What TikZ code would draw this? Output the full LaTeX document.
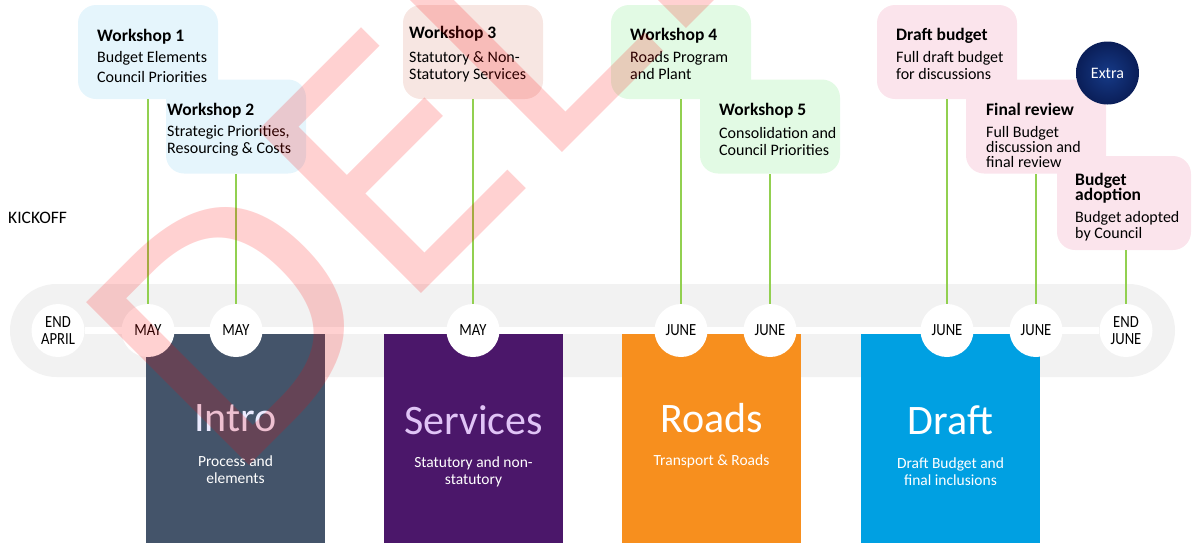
\documentclass[tikz,border=0pt]{standalone}
\usepackage{fontspec}
\usetikzlibrary{backgrounds}

\setmainfont{Carlito}
\newfontfamily\stampfamily{DejaVu Sans}
\newfontfamily\datefamily[FakeStretch=0.86]{Carlito}

\definecolor{cardblue}{RGB}{229,245,252}
\definecolor{cardrose}{RGB}{247,230,226}
\definecolor{cardgreen}{RGB}{226,250,228}
\definecolor{cardpink}{RGB}{251,228,236}
\definecolor{stemgreen}{RGB}{146,208,80}
\definecolor{bandgray}{RGB}{242,242,242}
\definecolor{introslate}{RGB}{68,84,106}
\definecolor{servpurple}{RGB}{75,23,106}
\definecolor{roadorange}{RGB}{247,143,30}
\definecolor{draftblue}{RGB}{0,160,226}
\definecolor{servlilac}{RGB}{224,196,246}
\definecolor{navyin}{RGB}{22,58,135}
\definecolor{navyout}{RGB}{10,30,88}

\newcommand\cardtitle{\bfseries\fontsize{17.5}{21}\selectfont}
\newcommand\cardbody{\fontsize{16}{17}\selectfont}
\newcommand\phasetitle{\fontsize{42}{46}\selectfont}
\newcommand\phasebody{\fontsize{15.5}{17}\selectfont}
\newcommand\datelabel{\datefamily\fontsize{17}{16.5}\selectfont}

\begin{document}
\begin{tikzpicture}
	[
	x=1pt, y=-1pt,
	card/.style={rounded corners=18pt, minimum width=140pt, minimum height=94pt, inner sep=0pt},
	cardtext/.style={anchor=base west, align=left, inner sep=0pt, font=\cardbody},
	date/.style={circle, fill=white, minimum size=53pt, inner sep=0pt, align=center, font=\datelabel},
	phase/.style={anchor=north west, minimum width=179pt, minimum height=220pt, inner sep=0pt},
	phasename/.style={inner sep=0pt, font=\phasetitle},
	phasesub/.style={inner sep=0pt, align=center, text=white, font=\phasebody},
	stem/.style={draw=stemgreen, line width=1.2pt},
	stamp/.style={rotate=45, anchor=base west, inner sep=0pt, text=red, text opacity=0.18,
		font=\stampfamily\fontsize{316}{316}\selectfont},
	]
		\useasboundingbox (0,0) rectangle (1192,542);
		\clip (0,0) rectangle (1192,542);
		
		% phase blocks under the timeline
		\node[phase, fill=introslate] (intro) at 	(146,334) {};
		\node[phase, fill=servpurple] (serv) at 	(384,334) {};
		\node[phase, fill=roadorange] (roads) at 	(622,334) {};
		\node[phase, fill=draftblue] (draft) at 	(861,334) {};
		
		\node[phasename, text=white!92!blue] (introname) at 	(235.5,418) {Intro};
		\node[phasename, text=servlilac] (servname) at 		(473.5,420) {Services};
		\node[phasename, text=white] (roadsname) at 		(711.5,418) {Roads};
		\node[phasename, text=white] (draftname) at 		(950.5,420) {Draft};
		
		\node[phasesub] (introsub) at 	(235.5,469.5) {Process and\\elements};
		\node[phasesub] (servsub) at 	(473.5,471.5) {Statutory and non-\\statutory};
		\node[phasesub] (roadssub) at 	(711.5,461.5) {Transport \& Roads};
		\node[phasesub] (draftsub) at 	(950.5,471.5) {Draft Budget and\\final inclusions};
		
		% dates on the timeline
		\node[date] (d1) at 	(  58,330.5) {END\\APRIL};
		\node[date] (d2) at 	( 148,330.5) {MAY};
		\node[date] (d3) at 	( 236,330.5) {MAY};
		\node[date] (d4) at 	( 473,330.5) {MAY};
		\node[date] (d5) at 	( 681,330.5) {JUNE};
		\node[date] (d6) at 	( 770,330.5) {JUNE};
		\node[date] (d7) at 	( 947,330.5) {JUNE};
		\node[date] (d8) at 	(1036,330.5) {JUNE};
		\node[date] (d9) at 	(1126,330.5) {END\\JUNE};
		
		\begin{scope}[on background layer]
			\fill[bandgray, rounded corners=46.5pt] (10,284) rectangle (1175,377);
			\draw[white, line width=7pt] (d1) -- (d9);
		\end{scope}
		
		\node[anchor=west, inner sep=0pt, font=\fontsize{17.5}{20}\selectfont] (kickoff) at (8,218) {KICKOFF};
		
		% workshop cards
		\node[card, fill=cardblue] (w1) at 	( 148, 52) {};
		\node[card, fill=cardblue] (w2) at 	( 236,126.5) {};
		\node[card, fill=cardrose] (w3) at 	( 473, 52) {};
		\node[card, fill=cardgreen] (w4) at 	( 681, 52) {};
		\node[card, fill=cardgreen] (w5) at 	( 770,126.5) {};
		\node[card, fill=cardpink] (db) at 	( 947, 52) {};
		\node[card, fill=cardpink] (fr) at 	(1036,126.5) {};
		\node[card, fill=cardpink, minimum width=134pt] (ba) at 	(1124,203) {};
		
		% card texts sit on the baseline of their last line
		\node[cardtext] (w1t) at 	( 97, 82) {{\cardtitle Workshop 1}\\[4pt] Budget Elements\\[3pt] Council Priorities};
		\node[cardtext] (w2t) at 	(167,153) {{\cardtitle Workshop 2}\\[3.4pt] Strategic Priorities,\\ Resourcing \& Costs};
		\node[cardtext] (w3t) at 	(409, 79) {{\cardtitle Workshop 3}\\[6.4pt] Statutory \& Non-\\ Statutory Services};
		\node[cardtext] (w4t) at 	(630, 79) {{\cardtitle Workshop 4}\\[4.4pt] Roads Program\\ and Plant};
		\node[cardtext] (w5t) at 	(719,155) {{\cardtitle Workshop 5}\\[5.4pt] Consolidation and\\ Council Priorities};
		\node[cardtext] (dbt) at 	(896, 79) {{\cardtitle Draft budget}\\[4.4pt] Full draft budget\\ for discussions};
		\node[cardtext] (frt) at 	(986,167) {{\cardtitle Final review}\\[4.4pt] Full Budget\\[-2pt] discussion and\\[-2pt] final review};
		\node[cardtext] (bat) at 	(1075,238) {{\cardtitle Budget}\\[-2pt] {\cardtitle adoption}\\[4.4pt] Budget adopted\\[-1pt] by Council};
		
		\node[circle, minimum size=63pt, inner sep=0pt, shading=radial, inner color=navyin, outer color=navyout,
			text=white, font=\fontsize{16}{16}\selectfont] (extra) at (1107.5,73) {Extra};
		
		\foreach \card/\day in {w1/d2,w2/d3,w3/d4,w4/d5,w5/d6,db/d7,fr/d8,ba/d9}
			\draw[stem] (\day.north) -- (\day.north |- \card.south);
		
		% watermark over everything
		\node[stamp] (stampword) at (227,488) {DELETE};
		
	\end{tikzpicture}
\end{document}
